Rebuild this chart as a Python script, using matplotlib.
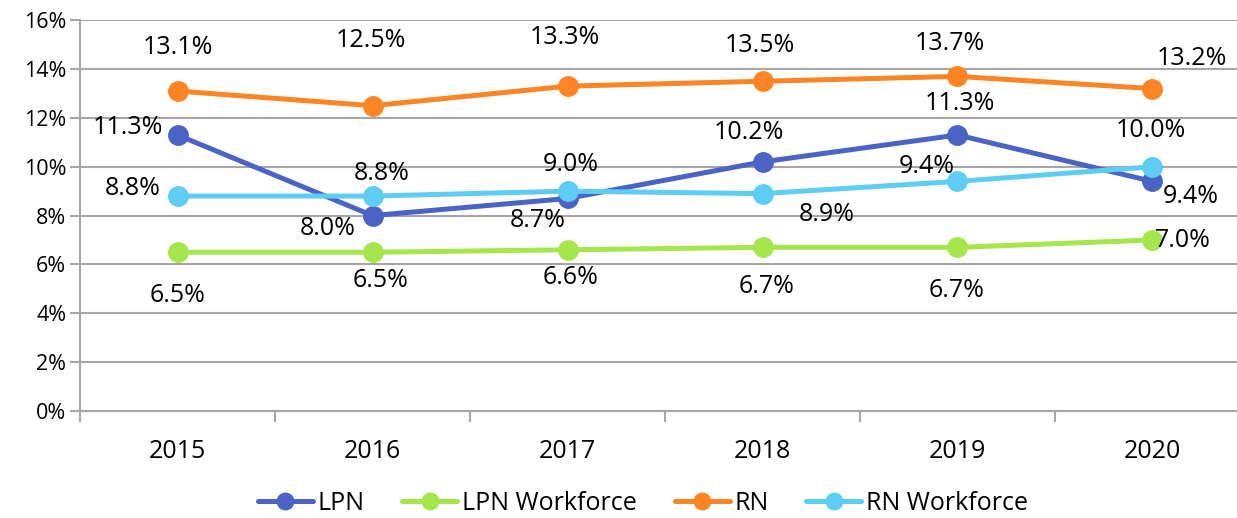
import matplotlib.pyplot as plt

years = ["2015", "2016", "2017", "2018", "2019", "2020"]
lpn = [11.3, 8.0, 8.7, 10.2, 11.3, 9.4]
lpn_workforce = [6.5, 6.5, 6.6, 6.7, 6.7, 7.0]
rn = [13.1, 12.5, 13.3, 13.5, 13.7, 13.2]
rn_workforce = [8.8, 8.8, 9.0, 8.9, 9.4, 10.0]

# series: (label, values, colour, label offsets in pixels)
series = [
    ("LPN", lpn, "#4A63C5",
     [(-50, 7), (-45, -13), (-30, -22), (-14, 29), (2, 31), (38, -15)]),
    ("LPN Workforce", lpn_workforce, "#A4E64C",
     [(0, -43), (8, -28), (3, -28), (4, -39), (-1, -43), (30, 0)]),
    ("RN", rn, "#FF8424",
     [(0, 44), (-2, 65), (-3, 49), (-3, 36), (-8, 33), (39, 30)]),
    ("RN Workforce", rn_workforce, "#5DCDF4",
     [(-45, 8), (9, 23), (3, 27), (64, -21), (-31, 15), (-2, 36)]),
]

plt.rcParams['font.family'] = ['Open Sans', 'DejaVu Sans']

fig = plt.figure(figsize=(12.37, 5.18), dpi=100)
ax = fig.add_axes([0.0647, 0.2066, 1.0105 - 0.0647, 0.961 - 0.2066])

x = list(range(len(years)))
for name, vals, col, offs in series:
    ax.plot(x, vals, color=col, lw=3.6, marker='o', ms=14, label=name,
            solid_capstyle='round', zorder=3)
    for xi, v, (dx, dy) in zip(x, vals, offs):
        ax.annotate(f"{v:.1f}%", (xi, v), xytext=(dx, dy),
                    textcoords='offset pixels', ha='center', va='center',
                    fontsize=18, color='black', zorder=4)

ax.set_xlim(-0.5, len(years) - 0.5)
ax.set_ylim(0, 16)
ax.set_yticks(range(0, 17, 2))
ax.set_yticklabels([f"{t}%" for t in range(0, 17, 2)], fontsize=15.5)
ax.set_xticks(x)
ax.set_xticklabels(years, fontsize=18)
ax.tick_params(axis='x', which='major', length=0, pad=20)
ax.set_xticks([i + 0.5 for i in range(-1, len(years))], minor=True)
ax.tick_params(axis='x', which='minor', length=8, color='#A6A6A6', width=1.5)
ax.tick_params(axis='y', length=7, color='#A6A6A6', width=1.5, pad=3)
ax.grid(axis='y', color='#A6A6A6', lw=1.5, zorder=0)
for s in ['top', 'right']:
    ax.spines[s].set_visible(False)
for s in ['left', 'bottom']:
    ax.spines[s].set_color('#A6A6A6')
    ax.spines[s].set_linewidth(1.5)

fig.legend(loc='lower center', bbox_to_anchor=(0.52, -0.04), ncol=4,
           frameon=False, fontsize=18, handlelength=2.2, columnspacing=1.5,
           handletextpad=0.2, markerscale=0.85)

fig.savefig("out.png", dpi=100)
